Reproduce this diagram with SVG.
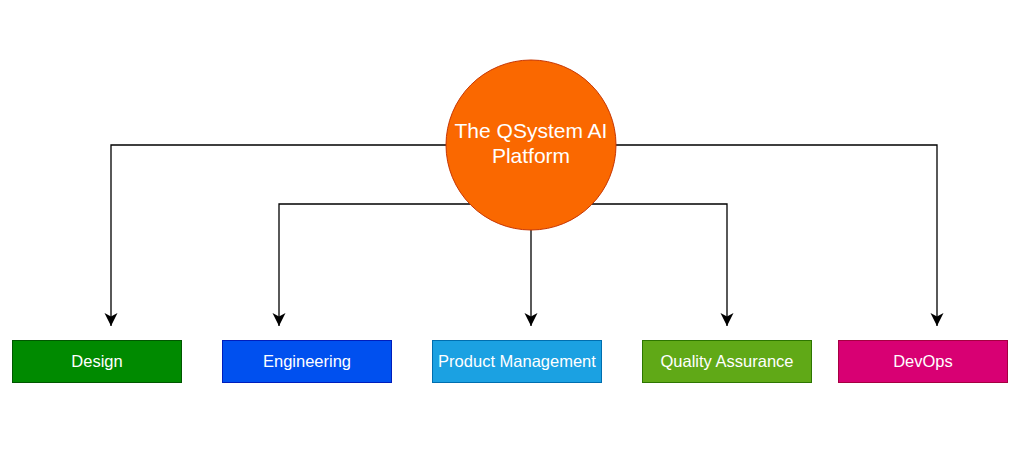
<svg xmlns="http://www.w3.org/2000/svg" width="1024" height="452" viewBox="0 0 1024 452">
<defs>
<style>
.edge{fill:none;stroke:#000;stroke-width:1.3;marker-end:url(#arr)}
.box text,.hub text{font-family:"Liberation Sans",Arial,sans-serif;fill:#fff;text-anchor:middle}
.box text{font-size:16.5px}
.hub text{font-size:21px}
.box rect{stroke-width:1}
</style>
<marker id="arr" viewBox="0 0 14 14" refX="13" refY="7" markerWidth="14" markerHeight="14" markerUnits="userSpaceOnUse" orient="auto">
<path d="M0,0.5 L13,7 L0,13.5 L3.5,7 Z" fill="#000"/>
</marker>
</defs>
<rect width="1024" height="452" fill="#fff"/>
<g id="connectors">
<path class="edge" d="M446,145 H111 V326"/>
<path class="edge" d="M616,145 H937 V326"/>
<path class="edge" d="M473,204 H279 V326"/>
<path class="edge" d="M589,204 H727 V326"/>
<path class="edge" d="M531,230 V326"/>
</g>
<g id="hub" class="hub">
<circle cx="531" cy="145" r="85" fill="#fa6800" stroke="#c73500" stroke-width="1"/>
<text x="531" y="138">The QSystem AI</text>
<text x="531" y="163">Platform</text>
</g>
<g id="design" class="box">
<rect x="12.5" y="340.5" width="169" height="42" fill="#008a00" stroke="#005700"/>
<text x="97" y="367">Design</text>
</g>
<g id="engineering" class="box">
<rect x="222.5" y="340.5" width="169" height="42" fill="#0050ef" stroke="#001dbc"/>
<text x="307" y="367">Engineering</text>
</g>
<g id="product" class="box">
<rect x="432.5" y="340.5" width="169" height="42" fill="#1ba1e2" stroke="#006eaf"/>
<text x="517" y="367">Product Management</text>
</g>
<g id="qa" class="box">
<rect x="642.5" y="340.5" width="169" height="42" fill="#60a917" stroke="#2d7600"/>
<text x="727" y="367">Quality Assurance</text>
</g>
<g id="devops" class="box">
<rect x="838.5" y="340.5" width="169" height="42" fill="#d80073" stroke="#a50040"/>
<text x="923" y="367">DevOps</text>
</g>
</svg>
